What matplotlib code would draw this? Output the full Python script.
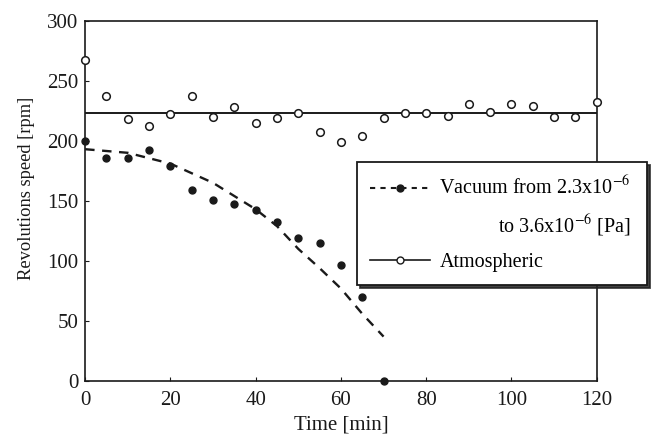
import numpy as np
import matplotlib
matplotlib.use("Agg")
import matplotlib.pyplot as plt
from matplotlib.lines import Line2D
from matplotlib.legend_handler import HandlerLine2D
from matplotlib.transforms import Affine2D

plt.rcParams['font.family'] = ['Liberation Serif', 'DejaVu Serif']
plt.rcParams['mathtext.fontset'] = 'stix'

# atmospheric runs (open circles)
atm_time = [0, 5, 10, 15, 20, 25, 30, 35, 40, 45, 50, 55, 60, 65, 70,
            75, 80, 85, 90, 95, 100, 105, 110, 115, 120]
atm_speed = [267, 237, 218, 212, 222, 237, 220, 228, 215, 219, 223, 207, 199, 204, 219,
             223, 223, 221, 231, 224, 231, 229, 220, 220, 232]
atm_mean = 223.5

# vacuum runs (filled circles)
vac_time = [0, 5, 10, 15, 20, 25, 30, 35, 40, 45, 50, 55, 60, 65, 70]
vac_speed = [200, 186, 186, 192, 179, 159, 151, 147, 142, 132, 119, 115, 97, 70, 0]

# fitted dashed curve
fit_time = [0, 10, 20, 30, 40, 45, 50, 55, 60, 65, 70]
fit_speed = [193, 190, 181, 165, 143, 129, 110, 94, 77, 56, 37]

xticks = [0, 20, 40, 60, 80, 100, 120]
yticks = [0, 50, 100, 150, 200, 250, 300]

ink = '#1a1a1a'


class RaisedHandler(HandlerLine2D):
    # puts the legend handle next to the first line of a two-line label
    def __init__(self, dy, **kw):
        super().__init__(**kw)
        self.dy = dy

    def create_artists(self, legend, orig_handle, xdescent, ydescent,
                       width, height, fontsize, trans):
        trans = Affine2D().translate(0, self.dy) + trans
        return super().create_artists(legend, orig_handle, xdescent, ydescent,
                                      width, height, fontsize, trans)


fig = plt.figure(figsize=(6.55, 4.4), dpi=100)
ax = fig.add_axes([0.130, 0.134, 0.781, 0.819])

ax.axhline(atm_mean, color=ink, lw=1.4, zorder=2)
ax.plot(atm_time, atm_speed, 'o', ms=5.5, mfc='white', mec=ink, mew=1.1,
        clip_on=False, zorder=3)
ax.plot(fit_time, fit_speed, color=ink, lw=1.7, dashes=(4, 3.2), zorder=2)
ax.plot(vac_time, vac_speed, 'o', ms=5, color=ink, clip_on=False, zorder=3)

ax.set_xlim(0, 120)
ax.set_ylim(0, 300)
ax.set_xticks(xticks)
ax.set_yticks(yticks)
ax.tick_params(direction='in', length=3, width=0.8, labelsize=15, colors=ink)
ax.tick_params(axis='x', pad=7)
ax.tick_params(axis='y', pad=5)
for s in ax.spines.values():
    s.set_linewidth(1.2)
    s.set_color(ink)

ax.set_xlabel('Time [min]', fontsize=15, color=ink, labelpad=4)
ax.set_ylabel('Revolutions speed [rpm]', fontsize=13.3, color=ink)
ax.yaxis.set_label_coords(-0.098, 0.535)

h_vac = Line2D([], [], color=ink, lw=1.5, dashes=(2.5, 2.5), marker='o', ms=5)
h_atm = Line2D([], [], color=ink, lw=1.2, marker='o', ms=5, mfc='white', mec=ink)
leg = ax.legend([h_vac, h_atm],
                ['Vacuum from 2.3x10$^{-6}$\nto 3.6x10$^{-6}$ [Pa]', 'Atmospheric'],
                handler_map={h_vac: RaisedHandler(14)},
                loc='upper left', bbox_to_anchor=(0.531, 0.2, 0.568, 0.407),
                mode='expand', numpoints=1,
                fontsize=14.5, frameon=True, fancybox=False,
                shadow={'color': '#222222', 'alpha': 0.85},
                handlelength=3.0, handletextpad=0.45, borderpad=0.65,
                labelspacing=0.65, borderaxespad=0)
leg.get_frame().set_edgecolor(ink)
leg.get_frame().set_linewidth(1.3)
leg.get_texts()[0].set_multialignment('right')
leg.get_texts()[0].set_linespacing(1.75)

fig.savefig('out.png', dpi=100)
